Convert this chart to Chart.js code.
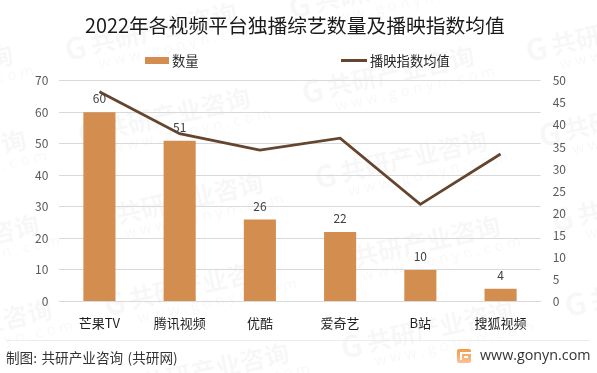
<!DOCTYPE html>
<html>
<head>
<meta charset="utf-8">
<script src="https://cdn.jsdelivr.net/npm/chart.js@4/dist/chart.umd.min.js"></script>
<style>
  html, body { margin: 0; padding: 0; background: #fff; }
  #wrap { position: relative; width: 597px; height: 373px; overflow: hidden; font-family: "Noto Sans CJK SC", sans-serif; }
  #myChart { position: absolute; left: 0; top: 0; }
  #legend { position: absolute; top: 53px; left: 0; color: #262626; font-size: 13.3px; line-height: 16px; }
  #legend div { position: absolute; white-space: nowrap; }
  #legend i { position: absolute; }
  #rule { position: absolute; left: 6px; width: 584px; top: 340px; height: 1px; background: #ececec; }
  #source { position: absolute; left: 6px; top: 348px; font-size: 13.6px; word-spacing: 1.5px; line-height: 18px; color: #333; }
  #logo { position: absolute; left: 457px; top: 349px; width: 14px; height: 14px; border-radius: 2px; background: linear-gradient(#f59a45, #f9c29a); }
  #logo b { position: absolute; background: #fff; }
  #site { position: absolute; left: 480px; top: 345px; font-size: 14.3px; line-height: 20px; color: #333; font-family: "Open Sans", sans-serif; }
</style>
</head>
<body>
<div id="wrap">
  <canvas id="myChart" width="597" height="373"></canvas>
  <div id="legend"></div>
  <div id="rule"></div>
  <div id="source">制图: 共研产业咨询 (共研网)</div>
  <div id="logo"><b style="left:3px;top:3px;width:11px;height:2px"></b><b style="left:7px;top:7px;width:4px;height:2px"></b><b style="left:3px;top:5px;width:2px;height:6px"></b></div>
  <div id="site">www.gonyn.com</div>
</div>
<script>
const categories = ['芒果TV', '腾讯视频', '优酷', '爱奇艺', 'B站', '搜狐视频'];
const counts = [60, 51, 26, 22, 10, 4];
const indexMeans = [47.5, 38, 34.3, 37, 22, 33.4];

const barColor = '#d28d4f';
const lineColor = '#65452e';

// faint company watermark behind the chart
const watermarkPlugin = {
  id: 'watermark',
  beforeDraw(chart) {
    const ctx = chart.ctx;
    ctx.save();
    ctx.textBaseline = 'middle';
    ctx.fillStyle = 'rgba(0,0,0,0.03)';
    for (let i = -2; i < 4; i++) {
      for (let j = -2; j < 6; j++) {
        ctx.save();
        ctx.translate(65 + i * 237 + j * 13, 50 + i * 43 + j * 85);
        ctx.rotate(-12.5 * Math.PI / 180);
        ctx.font = 'bold 30px "Noto Sans CJK SC"';
        ctx.fillText('G', 0, 0);
        ctx.font = 'bold 25px "Noto Sans CJK SC"';
        ctx.fillText('共研产业咨询', 26, 0);
        ctx.font = '15px "Open Sans"';
        ctx.fillText('w w w . g o n y n . c o m', 30, 21);
        ctx.restore();
      }
    }
    ctx.restore();
  }
};

// numbers above the bars
const barLabelPlugin = {
  id: 'barLabels',
  afterDatasetsDraw(chart) {
    const ctx = chart.ctx;
    const meta = chart.getDatasetMeta(1);
    ctx.save();
    ctx.fillStyle = '#404040';
    ctx.font = '12px "Noto Sans CJK SC"';
    ctx.textAlign = 'center';
    ctx.textBaseline = 'middle';
    meta.data.forEach((bar, i) => {
      ctx.fillText(counts[i], bar.x, bar.y - 13.5);
    });
    ctx.restore();
  }
};

const myChart = new Chart(document.getElementById('myChart').getContext('2d'), {
  data: {
    labels: categories,
    datasets: [{
      type: 'line',
      label: '播映指数均值',
      data: indexMeans,
      yAxisID: 'y1',
      borderColor: lineColor,
      borderWidth: 2.8,
      pointRadius: 0,
      tension: 0,
      order: 0
    }, {
      type: 'bar',
      label: '数量',
      data: counts,
      yAxisID: 'y',
      backgroundColor: barColor,
      categoryPercentage: 1,
      barPercentage: 0.4,
      order: 1
    }]
  },
  options: {
    responsive: false,
    animation: false,
    // uneven padding moves the title a little left of centre
    layout: { padding: { left: 16, right: 23, top: 8, bottom: 36 } },
    plugins: {
      legend: { display: false },
      tooltip: { enabled: false },
      title: {
        display: true,
        text: '2022年各视频平台独播综艺数量及播映指数均值',
        color: '#1a1a1a',
        font: { family: '"Noto Sans CJK SC"', size: 19.8, weight: 'normal' },
        padding: { top: 6, bottom: 43 }
      }
    },
    scales: {
      x: {
        grid: { display: false },
        border: { color: '#d9d9d9' },
        ticks: { color: '#1f1f1f', font: { family: '"Noto Sans CJK SC"', size: 13 }, maxRotation: 0, padding: 6 }
      },
      y: {
        min: 0, max: 70,
        position: 'left',
        afterFit(scale) { scale.width += 8; },
        grid: { color: '#d9d9d9', drawTicks: false },
        border: { display: false },
        ticks: { stepSize: 10, color: '#595959', padding: 11, font: { family: '"Noto Sans CJK SC"', size: 12 } }
      },
      y1: {
        min: 0, max: 50,
        position: 'right',
        afterFit(scale) { scale.width -= 4; },
        grid: { display: false, drawTicks: false },
        border: { display: false },
        ticks: { stepSize: 5, color: '#595959', padding: 12, font: { family: '"Noto Sans CJK SC"', size: 12 } }
      }
    }
  },
  plugins: [watermarkPlugin, barLabelPlugin]
});

// html legend, the two entries sit far apart
const legendBox = document.getElementById('legend');
const legendLeft = { '数量': 172, '播映指数均值': 370 };
myChart.data.datasets.slice().reverse().forEach(ds => {
  const item = document.createElement('div');
  item.style.left = legendLeft[ds.label] + 'px';
  item.textContent = ds.label;
  const key = document.createElement('i');
  if (ds.type === 'bar') {
    key.style.left = '-27px';
    key.style.width = '24px';
    key.style.height = '7px';
    key.style.top = '4px';
    key.style.background = ds.backgroundColor;
  } else {
    key.style.left = '-29px';
    key.style.width = '26px';
    key.style.height = '3px';
    key.style.top = '6px';
    key.style.background = ds.borderColor;
  }
  item.appendChild(key);
  legendBox.appendChild(item);
});
</script>
</body>
</html>
